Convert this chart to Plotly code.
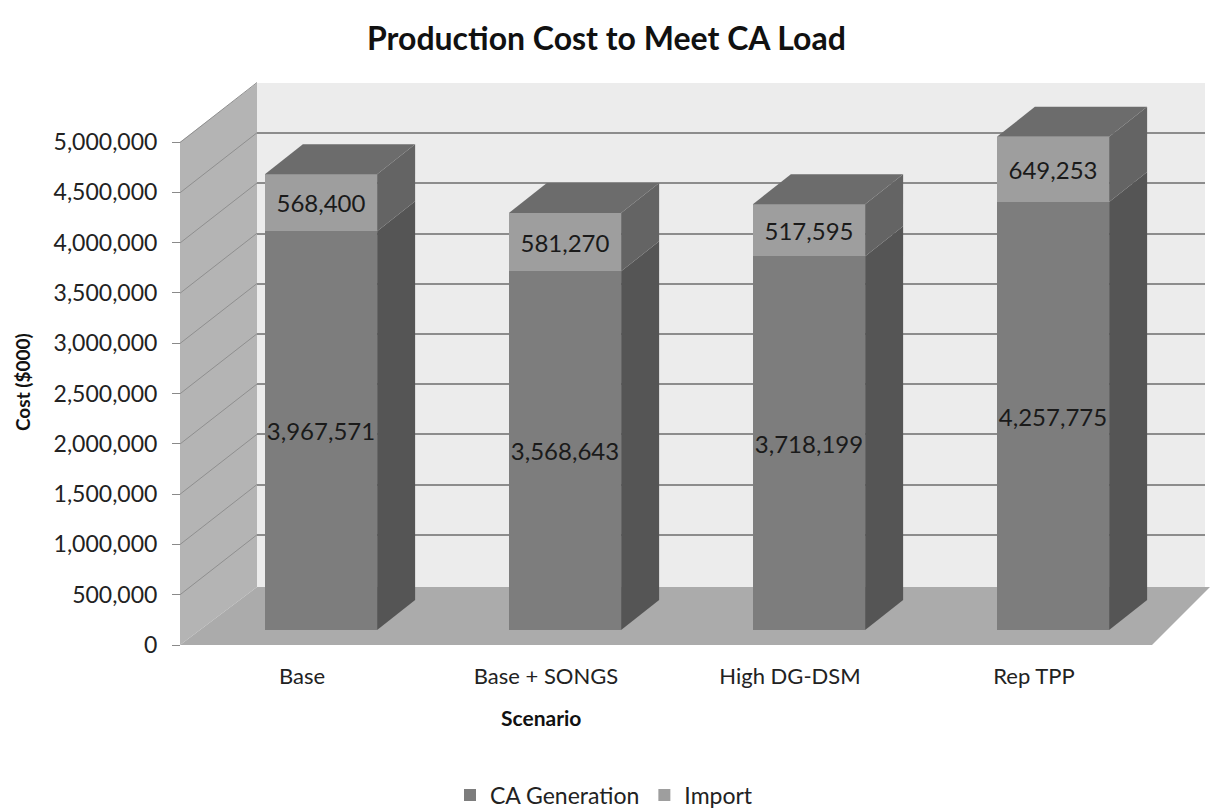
import plotly.graph_objects as go

# ---- data -------------------------------------------------------------
scenarios = ["Base", "Base + SONGS", "High DG-DSM", "Rep TPP"]
ca_generation = [3967571, 3568643, 3718199, 4257775]
imports = [568400, 581270, 517595, 649253]
y_ticks = [0, 500000, 1000000, 1500000, 2000000, 2500000,
           3000000, 3500000, 4000000, 4500000, 5000000]

# ---- page geometry (pixels) ------------------------------------------
W, H = 1213, 811


def fx(px):
    return px / W


def fy(py):
    return 1 - py / H


PX_PER_UNIT = 100.5 / 1e6          # vertical pixels per $000
DEPTH_X, DEPTH_Y = 77, 60          # full depth of the 3-D box, pixels
BAR_DX_PX, BAR_DY_PX = 38, 30      # depth of a column, pixels
CAT_STEP_PX = 244
BAR_W = 0.46

C_CA = "#7d7d7d"
C_IMP = "#9e9e9e"
C_CA_SIDE = "#555555"
C_IMP_SIDE = "#646464"
C_TOP = "#6c6c6c"

FONT = "Lato"

fig = go.Figure()

# axes carrier for the front value/category axes
fig.add_trace(go.Scatter(x=scenarios, y=[0] * len(scenarios), mode="none",
                         showlegend=False, hoverinfo="skip",
                         xaxis="x", yaxis="y"))
# carrier for the back-wall gridlines
fig.add_trace(go.Scatter(x=[0], y=[0], mode="none", showlegend=False,
                         hoverinfo="skip", xaxis="x2", yaxis="y2"))

idx = list(range(len(scenarios)))
fig.add_trace(go.Bar(
    x=idx, y=ca_generation, name="CA Generation", width=BAR_W,
    marker=dict(color=C_CA, line=dict(width=0)),
    text=[f"{v:,}" for v in ca_generation], textposition="inside",
    insidetextanchor="middle", constraintext="none", textangle=0,
    textfont=dict(family=FONT, size=24, color="#1a1a1a"),
    hoverinfo="skip", xaxis="x3", yaxis="y3"))
fig.add_trace(go.Bar(
    x=idx, y=imports, name="Import", width=BAR_W,
    marker=dict(color=C_IMP, line=dict(width=0)),
    text=[f"{v:,}" for v in imports], textposition="inside",
    insidetextanchor="middle", constraintext="none", textangle=0,
    textfont=dict(family=FONT, size=24, color="#1a1a1a"),
    hoverinfo="skip", xaxis="x3", yaxis="y3"))

shapes = []


def poly(points, color, layer="below", **ref):
    path = "M " + " L ".join(f"{x},{y}" for x, y in points) + " Z"
    shapes.append(dict(type="path", path=path, fillcolor=color,
                       line=dict(width=0), layer=layer, **ref))


# walls and floor of the 3-D box (paper coordinates)
poly([(fx(257), fy(83)), (fx(1205), fy(83)), (fx(1205), fy(587)),
      (fx(257), fy(587))], "#ececec", xref="paper", yref="paper")
poly([(fx(180), fy(142)), (fx(257), fy(83)), (fx(257), fy(587)),
      (fx(180), fy(645))], "#b4b4b4", xref="paper", yref="paper")
poly([(fx(180), fy(645)), (fx(1152), fy(645)), (fx(1210), fy(587)),
      (fx(257), fy(587))], "#ababab", xref="paper", yref="paper")

# side-wall gridlines
for v in y_ticks[1:]:
    yf = 645 - v * PX_PER_UNIT
    shapes.append(dict(type="line", xref="paper", yref="paper",
                       x0=fx(180), y0=fy(yf), x1=fx(257), y1=fy(yf - DEPTH_Y),
                       line=dict(color="#8f8f8f", width=1), layer="below"))

# side and top faces of the columns (data coordinates of the bar axes)
dx = BAR_DX_PX / CAT_STEP_PX
dy = BAR_DY_PX / PX_PER_UNIT
for i, (ca, imp) in enumerate(zip(ca_generation, imports)):
    xl, xr = i - BAR_W / 2, i + BAR_W / 2
    top = ca + imp
    ref = dict(xref="x3", yref="y3", layer="above")
    poly([(xr, 0), (xr + dx, dy), (xr + dx, ca + dy), (xr, ca)],
         C_CA_SIDE, **ref)
    poly([(xr, ca), (xr + dx, ca + dy), (xr + dx, top + dy), (xr, top)],
         C_IMP_SIDE, **ref)
    poly([(xl, top), (xl + dx, top + dy), (xr + dx, top + dy), (xr, top)],
         C_TOP, **ref)

fig.update_layout(
    width=W, height=H,
    margin=dict(l=0, r=0, t=0, b=0, autoexpand=False),
    paper_bgcolor="white", plot_bgcolor="rgba(0,0,0,0)",
    font=dict(family=FONT, color="#222222"),
    barmode="stack",
    shapes=shapes,
    showlegend=True,
    legend=dict(orientation="h", x=fx(604), xanchor="center",
                y=fy(795), yanchor="middle", traceorder="normal",
                font=dict(family=FONT, size=23, color="#222222"),
                itemwidth=30, bgcolor="rgba(0,0,0,0)"),
    xaxis=dict(domain=[fx(180), fx(1156)], type="category",
               categoryorder="array", categoryarray=scenarios,
               range=[-0.5, 3.5],
               anchor="y", showline=False, showgrid=False, zeroline=False,
               ticks="", ticklabelstandoff=16,
               tickfont=dict(family=FONT, size=22, color="#222222")),
    yaxis=dict(domain=[fy(645), fy(142)], range=[0, 5000000],
               anchor="free", position=fx(180), tickvals=y_ticks,
               tickformat=",d", ticks="outside", ticklen=8,
               tickcolor="#8a8a8a", showline=False, showgrid=False,
               zeroline=False, ticklabelstandoff=10,
               tickfont=dict(family=FONT, size=23, color="#222222")),
    xaxis2=dict(domain=[fx(257), fx(1205)], range=[0, 1], anchor="y2",
                showticklabels=False, ticks="", showgrid=False,
                zeroline=False, showline=False),
    yaxis2=dict(domain=[fy(585), fy(83)], range=[0, 5000000], anchor="x2",
                tickvals=y_ticks, showticklabels=False, ticks="",
                showgrid=True, gridcolor="#8c8c8c", gridwidth=2,
                zeroline=False, showline=False),
    xaxis3=dict(domain=[fx(199), fx(1175)], range=[-0.5, 3.5], anchor="y3",
                visible=False),
    yaxis3=dict(domain=[fy(630), fy(630 - 6 * 100.5)], range=[0, 6000000],
                anchor="x3", visible=False),
    annotations=[
        dict(text="<b>Production Cost to Meet CA Load</b>", xref="paper",
             yref="paper", x=fx(606), y=fy(38), showarrow=False,
             xanchor="center", yanchor="middle",
             font=dict(family=FONT, size=32, color="#111111")),
        dict(text="<b>Cost ($000)</b>", xref="paper", yref="paper",
             x=fx(22), y=fy(382), textangle=-90, showarrow=False,
             xanchor="center", yanchor="middle",
             font=dict(family=FONT, size=19, color="#111111")),
        dict(text="<b>Scenario</b>", xref="paper", yref="paper",
             x=fx(541), y=fy(717), showarrow=False,
             xanchor="center", yanchor="middle",
             font=dict(family=FONT, size=21, color="#111111")),
    ],
)

fig.write_html("out.html")
